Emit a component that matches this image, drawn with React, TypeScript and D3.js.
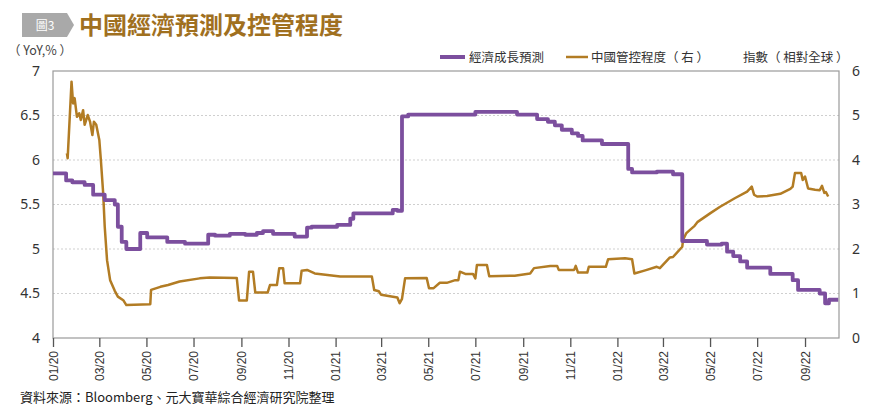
import { useEffect, useRef } from 'react';
import * as d3 from 'd3';

// 經濟成長預測 (left axis, YoY %) — step series, value holds until next date
const gdpDates = [
  '2020-01-01', '2020-01-18', '2020-01-26', '2020-02-11', '2020-02-22', '2020-03-08', '2020-03-21',
  '2020-03-25', '2020-03-30', '2020-04-05', '2020-04-23', '2020-05-02', '2020-05-28', '2020-06-20',
  '2020-07-20', '2020-07-29', '2020-08-17', '2020-09-06', '2020-09-21', '2020-09-29', '2020-10-12',
  '2020-11-09', '2020-11-25', '2020-12-01', '2021-01-03', '2021-01-20', '2021-01-24', '2021-03-16',
  '2021-03-22', '2021-03-28', '2021-04-05', '2021-07-01', '2021-08-24', '2021-09-19', '2021-10-03',
  '2021-10-12', '2021-10-21', '2021-11-03', '2021-11-11', '2021-11-17', '2021-12-12', '2022-01-15',
  '2022-01-20', '2022-02-21', '2022-03-14', '2022-03-26', '2022-04-27', '2022-05-16', '2022-05-23',
  '2022-05-31', '2022-06-09', '2022-06-18', '2022-07-18', '2022-08-16', '2022-08-23', '2022-09-20',
  '2022-09-27', '2022-10-02', '2022-10-14',
];
const gdpValues = [
  5.85, 5.77, 5.75, 5.72, 5.61, 5.55, 5.5,
  5.25, 5.08, 5.0, 5.18, 5.13, 5.08, 5.06,
  5.16, 5.15, 5.17, 5.16, 5.18, 5.2, 5.17,
  5.14, 5.24, 5.25, 5.27, 5.34, 5.4, 5.44,
  5.43, 6.49, 6.51, 6.54, 6.51, 6.46, 6.43,
  6.39, 6.34, 6.3, 6.27, 6.22, 6.18, 5.9,
  5.86, 5.87, 5.84, 5.09, 5.05, 5.06, 4.97,
  4.92, 4.86, 4.79, 4.72, 4.65, 4.54, 4.5,
  4.39, 4.43, 4.43,
];

// 中國管控程度（右）指數（相對全球）
const ctrlDates = [
  '2020-01-19', '2020-01-20', '2020-01-25', '2020-01-27', '2020-01-29', '2020-02-01', '2020-02-04',
  '2020-02-06', '2020-02-09', '2020-02-11', '2020-02-15', '2020-02-18', '2020-02-21', '2020-02-23',
  '2020-02-26', '2020-03-01', '2020-03-03', '2020-03-06', '2020-03-08', '2020-03-11', '2020-03-15',
  '2020-03-21', '2020-03-25', '2020-04-01', '2020-04-05', '2020-05-06', '2020-05-07', '2020-05-19',
  '2020-05-29', '2020-06-13', '2020-07-09', '2020-07-22', '2020-08-26', '2020-08-29', '2020-09-08',
  '2020-09-11', '2020-09-16', '2020-09-19', '2020-10-05', '2020-10-08', '2020-10-17', '2020-10-20',
  '2020-10-25', '2020-10-27', '2020-11-16', '2020-11-18', '2020-11-25', '2020-12-05', '2021-01-07',
  '2021-02-17', '2021-02-20', '2021-02-26', '2021-03-01', '2021-03-22', '2021-03-25', '2021-03-28',
  '2021-04-01', '2021-04-29', '2021-05-02', '2021-05-08', '2021-05-16', '2021-05-25', '2021-06-05',
  '2021-06-09', '2021-06-11', '2021-06-18', '2021-06-28', '2021-07-01', '2021-07-03', '2021-07-16',
  '2021-07-19', '2021-08-21', '2021-09-10', '2021-09-15', '2021-10-06', '2021-10-15', '2021-10-17',
  '2021-11-06', '2021-11-08', '2021-11-11', '2021-11-23', '2021-11-25', '2021-12-17', '2021-12-20',
  '2022-01-11', '2022-01-20', '2022-01-23', '2022-02-06', '2022-02-21', '2022-02-25', '2022-03-10',
  '2022-03-14', '2022-03-26', '2022-03-27', '2022-03-31', '2022-04-05', '2022-04-11', '2022-04-15',
  '2022-05-01', '2022-05-14', '2022-06-02', '2022-06-18', '2022-06-24', '2022-06-27', '2022-07-01',
  '2022-07-14', '2022-07-31', '2022-08-13', '2022-08-16', '2022-08-19', '2022-08-27', '2022-08-29',
  '2022-09-01', '2022-09-05', '2022-09-14', '2022-09-20', '2022-09-23', '2022-09-26', '2022-09-28',
  '2022-10-01',
];
const ctrlValues = [
  4.15, 4.04, 5.76, 5.27, 5.39, 4.97, 5.05,
  4.9, 5.12, 4.79, 5.01, 4.86, 4.56, 4.86,
  4.79, 4.45, 4.0, 3.25, 2.5, 1.75, 1.3,
  1.06, 0.93, 0.85, 0.74, 0.76, 1.08, 1.15,
  1.19, 1.27, 1.34, 1.36, 1.35, 0.84, 0.84,
  1.49, 1.49, 1.02, 1.02, 1.19, 1.19, 1.57,
  1.57, 1.23, 1.23, 1.51, 1.53, 1.45, 1.38,
  1.38, 1.08, 1.05, 0.97, 0.91, 0.78, 0.88,
  1.34, 1.35, 1.12, 1.12, 1.24, 1.24, 1.3,
  1.3, 1.49, 1.44, 1.44, 1.34, 1.64, 1.64,
  1.39, 1.4, 1.45, 1.57, 1.62, 1.62, 1.53,
  1.53, 1.62, 1.47, 1.47, 1.6, 1.6, 1.77,
  1.79, 1.77, 1.45, 1.52, 1.6, 1.57, 1.81,
  1.82, 2.05, 2.2, 2.35, 2.43, 2.52, 2.61,
  2.8, 2.95, 3.14, 3.29, 3.4, 3.22, 3.18,
  3.19, 3.24, 3.35, 3.4, 3.71, 3.71, 3.55,
  3.63, 3.36, 3.33, 3.32, 3.42, 3.26, 3.28,
  3.18,
];

const leftTicks = [4, 4.5, 5, 5.5, 6, 6.5, 7];
const rightTicks = [0, 1, 2, 3, 4, 5, 6];
const xTickLabels = [
  '01/20', '03/20', '05/20', '07/20', '09/20', '11/20', '01/21', '03/21', '05/21',
  '07/21', '09/21', '11/21', '01/22', '03/22', '05/22', '07/22', '09/22',
];

const PURPLE = '#7c4f9e';
const ORANGE = '#b27c24';
const FONT = '"Noto Sans CJK TC", "Noto Sans", sans-serif';

export default function App() {
  const svgRef = useRef<SVGSVGElement>(null);

  useEffect(() => {
    if (!svgRef.current) return;
    const W = 870;
    const H = 415;
    const m = { left: 53, right: 31, top: 71, bottom: 77 };
    const iw = W - m.left - m.right;
    const ih = H - m.top - m.bottom;

    const root = d3.select(svgRef.current);
    root.selectAll('*').remove();
    root.attr('width', W).attr('height', H).attr('viewBox', `0 0 ${W} ${H}`);

    const parse = d3.timeParse('%Y-%m-%d');
    const gdp = gdpDates.map((d, i) => ({ date: parse(d) as Date, v: gdpValues[i] }));
    const ctrl = ctrlDates.map((d, i) => ({ date: parse(d) as Date, v: ctrlValues[i] }));

    const x = d3.scaleTime().domain([new Date(2020, 0, 1), new Date(2022, 9, 15)]).range([0, iw]);
    const yL = d3.scaleLinear().domain([4, 7]).range([ih, 0]);
    const yR = d3.scaleLinear().domain([0, 6]).range([ih, 0]);

    // Title block
    root
      .append('polygon')
      .attr('points', '22,13 67,13 74,25 67,37 22,37')
      .attr('fill', '#a9a9a9');
    root
      .append('text')
      .attr('x', 45)
      .attr('y', 29.5)
      .attr('text-anchor', 'middle')
      .attr('font-family', FONT)
      .attr('font-size', 12)
      .attr('fill', '#fff')
      .text('圖3');
    root
      .append('text')
      .attr('x', 79)
      .attr('y', 34)
      .attr('font-family', FONT)
      .attr('font-size', 24)
      .attr('font-weight', 'bold')
      .attr('fill', '#a0701f')
      .text('中國經濟預測及控管程度');

    root
      .append('text')
      .attr('x', 8)
      .attr('y', 55)
      .attr('font-family', FONT)
      .attr('font-size', 12.5)
      .attr('fill', '#444')
      .text('（ YoY,% ）');

    // Legend
    const lg = root.append('g').attr('font-family', FONT).attr('font-size', 12.5).attr('fill', '#333');
    lg.append('line').attr('x1', 440).attr('x2', 465).attr('y1', 57).attr('y2', 57).attr('stroke', PURPLE).attr('stroke-width', 4);
    lg.append('text').attr('x', 469).attr('y', 61.5).text('經濟成長預測');
    lg.append('line').attr('x1', 566).attr('x2', 588).attr('y1', 57).attr('y2', 57).attr('stroke', ORANGE).attr('stroke-width', 2.5);
    lg.append('text').attr('x', 591).attr('y', 61.5).text('中國管控程度（ 右 ）');
    lg.append('text').attr('x', 743).attr('y', 61.5).text('指數（ 相對全球 ）');

    const g = root.append('g').attr('transform', `translate(${m.left},${m.top})`);

    // Gridlines
    g.append('g')
      .selectAll('line')
      .data(leftTicks.filter((t) => t > 4 && t < 7))
      .join('line')
      .attr('x1', 0)
      .attr('x2', iw)
      .attr('y1', (d) => yL(d))
      .attr('y2', (d) => yL(d))
      .attr('stroke', '#cfcfcf')
      .attr('stroke-dasharray', '2,2')
      .attr('stroke-width', 1);

    // Frame
    g.append('rect')
      .attr('x', 0)
      .attr('y', 0)
      .attr('width', iw)
      .attr('height', ih)
      .attr('fill', 'none')
      .attr('stroke', '#9a9a9a')
      .attr('stroke-width', 1.2);

    // Left axis labels
    g.append('g')
      .selectAll('text')
      .data(leftTicks)
      .join('text')
      .attr('x', -13)
      .attr('y', (d) => yL(d))
      .attr('dy', '0.35em')
      .attr('text-anchor', 'end')
      .attr('font-family', '"Noto Sans", sans-serif')
      .attr('font-size', 14)
      .attr('fill', '#333')
      .text((d) => String(d));

    // Right axis labels
    g.append('g')
      .selectAll('text')
      .data(rightTicks)
      .join('text')
      .attr('x', iw + 13)
      .attr('y', (d) => yR(d))
      .attr('dy', '0.35em')
      .attr('font-family', '"Noto Sans", sans-serif')
      .attr('font-size', 14)
      .attr('fill', '#333')
      .text((d) => String(d));

    // X axis
    const tickDates = xTickLabels.map((l) => {
      const [mm, yy] = l.split('/');
      return new Date(2000 + Number(yy), Number(mm) - 1, 1);
    });
    const xAxis = g
      .append('g')
      .attr('transform', `translate(0,${ih})`)
      .call(
        d3
          .axisBottom(x)
          .tickValues(tickDates)
          .tickSize(9)
          .tickFormat((d) => d3.timeFormat('%m/%y')(d as Date))
      );
    xAxis.select('.domain').remove();
    xAxis.selectAll('line').attr('stroke', '#555').attr('stroke-width', 1.3);
    xAxis
      .selectAll('text')
      .attr('transform', 'rotate(-90)')
      .attr('text-anchor', 'end')
      .attr('x', -13)
      .attr('y', 0)
      .attr('dy', '0.35em')
      .attr('font-family', '"Liberation Sans", Arial, sans-serif')
      .attr('font-size', 12)
      .attr('fill', '#333');

    // Lines
    const ctrlLine = d3
      .line<{ date: Date; v: number }>()
      .x((d) => x(d.date))
      .y((d) => yR(d.v));
    g.append('path')
      .datum(ctrl)
      .attr('d', ctrlLine)
      .attr('fill', 'none')
      .attr('stroke', ORANGE)
      .attr('stroke-width', 2.5)
      .attr('stroke-linejoin', 'round');

    const gdpLine = d3
      .line<{ date: Date; v: number }>()
      .curve(d3.curveStepAfter)
      .x((d) => x(d.date))
      .y((d) => yL(d.v));
    g.append('path')
      .datum(gdp)
      .attr('d', gdpLine)
      .attr('fill', 'none')
      .attr('stroke', PURPLE)
      .attr('stroke-width', 3.8)
      .attr('stroke-linejoin', 'round');

    // Source
    root
      .append('text')
      .attr('x', 20)
      .attr('y', 402)
      .attr('font-family', FONT)
      .attr('font-size', 13)
      .attr('fill', '#222')
      .text('資料來源：Bloomberg、元大寶華綜合經濟研究院整理');
  }, []);

  return (
    <div style={{ position: 'absolute', left: 0, top: 0, background: '#fff' }}>
      <svg ref={svgRef} style={{ display: 'block' }} />
    </div>
  );
}
